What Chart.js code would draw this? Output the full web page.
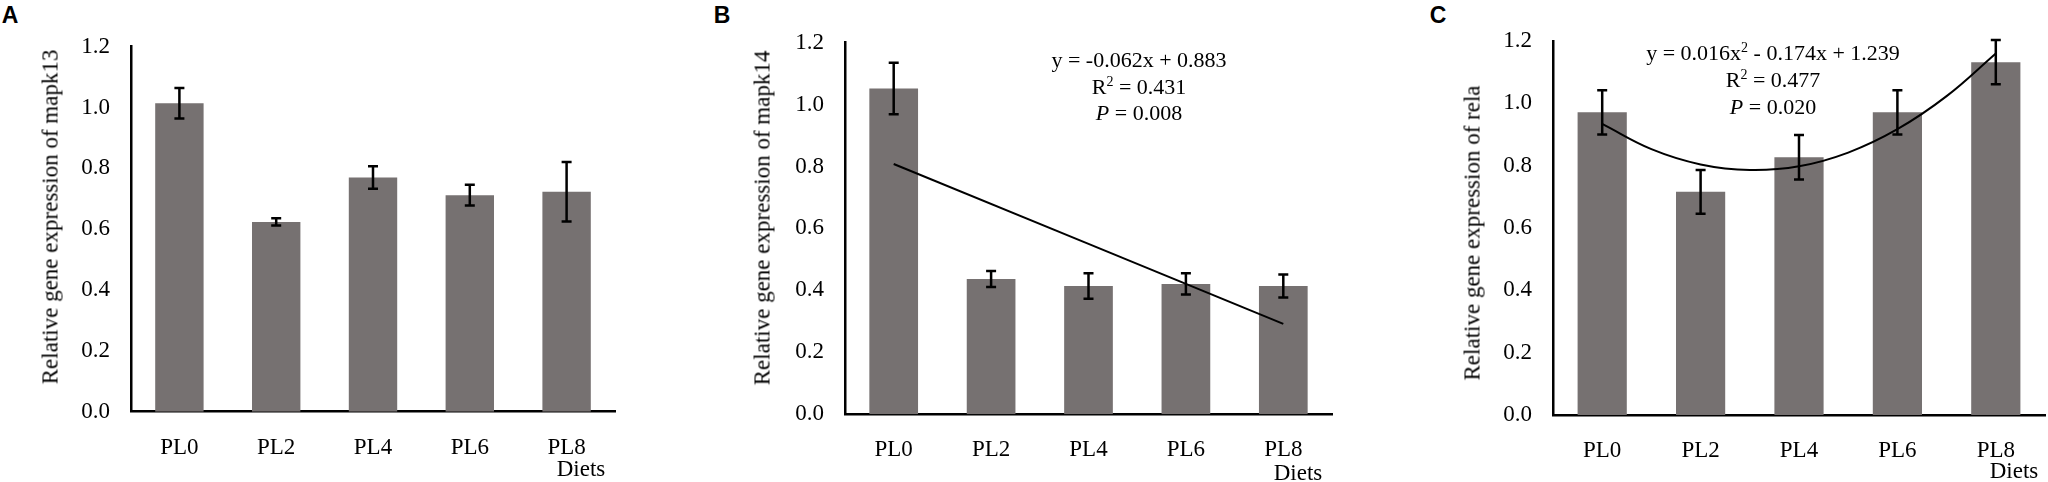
<!DOCTYPE html>
<html>
<head>
<meta charset="utf-8">
<title>Relative gene expression</title>
<script src="https://cdn.jsdelivr.net/npm/chart.js@4.4.1/dist/chart.umd.min.js"></script>
<style>
  html, body { margin: 0; padding: 0; background: #fff; }
  body { width: 2048px; height: 482px; position: relative; overflow: hidden;
         font-family: "Liberation Serif", "Times New Roman", serif; color: #000; }
  canvas.panel { position: absolute; top: 0; }
  .txt { position: absolute; white-space: nowrap; line-height: 1; transform: translate(-50%, -50%); }
  .letter { font-family: "Liberation Sans", Arial, sans-serif; font-weight: bold; font-size: 23px; }
  .ytitle { font-size: 23px; transform: translate(-50%, -50%) rotate(-90deg); }
  .xtitle { font-size: 23px; }
  .eq { font-size: 22px; }
  .eq sup { font-size: 14px; vertical-align: 8px; line-height: 0; }
</style>
</head>
<body>
<canvas id="chartA" class="panel"></canvas>
<canvas id="chartB" class="panel"></canvas>
<canvas id="chartC" class="panel"></canvas>

<div class="txt letter" style="left:10px; top:15px;">A</div>
<div class="txt letter" style="left:722px; top:15px;">B</div>
<div class="txt letter" style="left:1438px; top:15px;">C</div>

<div class="txt ytitle" style="left:50px; top:217px;">Relative gene expression of mapk13</div>
<div class="txt ytitle" style="left:762px; top:218px;">Relative gene expression of mapk14</div>
<div class="txt ytitle" style="left:1472px; top:233px;">Relative gene expression of rela</div>

<div class="txt xtitle" style="left:581px; top:468px;">Diets</div>
<div class="txt xtitle" style="left:1298px; top:472px;">Diets</div>
<div class="txt xtitle" style="left:2014px; top:470px;">Diets</div>

<div class="txt eq" style="left:1139px; top:60px;">y = -0.062x + 0.883</div>
<div class="txt eq" style="left:1139px; top:87px;">R<sup>2</sup> = 0.431</div>
<div class="txt eq" style="left:1139px; top:113px;"><i>P</i> = 0.008</div>

<div class="txt eq" style="left:1773px; top:53px;">y = 0.016x<sup>2</sup> - 0.174x + 1.239</div>
<div class="txt eq" style="left:1773px; top:80px;">R<sup>2</sup> = 0.477</div>
<div class="txt eq" style="left:1773px; top:107px;"><i>P</i> = 0.020</div>

<script>
// Data
const diets = ['PL0', 'PL2', 'PL4', 'PL6', 'PL8'];
const yTicks = [0, 0.2, 0.4, 0.6, 0.8, 1.0, 1.2];

const mapk13 = [1.014, 0.624, 0.770, 0.712, 0.723];
const mapk13Err = [0.050, 0.012, 0.037, 0.034, 0.098];

const mapk14 = [1.052, 0.437, 0.414, 0.421, 0.414];
const mapk14Err = [0.083, 0.026, 0.041, 0.034, 0.037];

const rela = [0.971, 0.716, 0.827, 0.971, 1.132];
const relaErr = [0.071, 0.070, 0.071, 0.071, 0.071];

// Trend lines, x = position along the diet axis (0 = PL0 ... 4 = PL8)
const mapk14TrendX = [0, 4];
const mapk14TrendY = [0.808, 0.292];
const relaTrendX = [0, 0.5, 1, 1.5, 2, 2.5, 3, 3.5, 4];
const relaTrendY = [0.934, 0.853, 0.804, 0.786, 0.798, 0.842, 0.917, 1.023, 1.160];

const BAR_COLOR = '#767171';
const FONT = "'Liberation Serif', 'Times New Roman', serif";
const H = 482;
const Y_AXIS_W = 100;
const X_AXIS_H = 60;

Chart.defaults.font.family = FONT;
Chart.defaults.color = '#000';

// Error bars drawn on top of the bars
const errorBarPlugin = {
    id: 'errorBars',
    afterDatasetsDraw(chart, args, opts) {
        const meta = chart.getDatasetMeta(0);
        const values = chart.data.datasets[0].data;
        const yScale = chart.scales.y;
        const ctx = chart.ctx;
        ctx.save();
        ctx.strokeStyle = '#000';
        ctx.lineWidth = 2.5;
        meta.data.forEach((bar, i) => {
            const e = opts.errors[i];
            const top = yScale.getPixelForValue(values[i] + e);
            const bot = yScale.getPixelForValue(values[i] - e);
            const half = 5;
            ctx.beginPath();
            ctx.moveTo(bar.x, top);
            ctx.lineTo(bar.x, bot);
            ctx.moveTo(bar.x - half, top);
            ctx.lineTo(bar.x + half, top);
            ctx.moveTo(bar.x - half, bot);
            ctx.lineTo(bar.x + half, bot);
            ctx.stroke();
        });
        ctx.restore();
    }
};

function makePanel(id, box, values, errors, trendX, trendY) {
    const canvas = document.getElementById(id);
    const width = box.right - box.axisX + Y_AXIS_W + 3;
    canvas.width = width;
    canvas.height = H;
    canvas.style.width = width + 'px';
    canvas.style.height = H + 'px';
    canvas.style.left = (box.axisX - Y_AXIS_W) + 'px';

    const datasets = [{
        type: 'bar',
        data: values,
        backgroundColor: BAR_COLOR,
        categoryPercentage: 1.0,
        barPercentage: 0.5,
        grouped: false,
        xAxisID: 'x',
        order: 2
    }];
    if (trendX) {
        datasets.push({
            type: 'line',
            data: trendX.map((x, i) => ({ x: x, y: trendY[i] })),
            xAxisID: 'xt',
            borderColor: '#000',
            borderWidth: 2,
            pointRadius: 0,
            tension: 0.4,
            fill: false,
            order: 1
        });
    }

    return new Chart(canvas.getContext('2d'), {
        type: 'bar',
        data: { labels: diets, datasets: datasets },
        options: {
            responsive: false,
            animation: false,
            layout: {
                padding: { left: 0, right: 3, top: box.top, bottom: H - box.zero - X_AXIS_H }
            },
            plugins: {
                legend: { display: false },
                tooltip: { enabled: false },
                errorBars: { errors: errors }
            },
            scales: {
                x: {
                    type: 'category',
                    offset: true,
                    grid: { display: false },
                    border: { display: true, color: '#000', width: 2.5 },
                    ticks: {
                        color: '#000',
                        font: { family: FONT, size: 23 },
                        padding: 14,
                        maxRotation: 0,
                        autoSkip: false
                    },
                    afterFit: s => { s.height = X_AXIS_H; }
                },
                xt: {
                    type: 'linear',
                    display: false,
                    offset: false,
                    min: -0.5,
                    max: 4.5
                },
                y: {
                    min: 0,
                    max: 1.2,
                    grid: { display: false },
                    border: { display: true, color: '#000', width: 2.5 },
                    ticks: {
                        color: '#000',
                        font: { family: FONT, size: 23 },
                        padding: 13,
                        callback: v => v.toFixed(1)
                    },
                    afterBuildTicks: s => { s.ticks = yTicks.map(v => ({ value: v })); },
                    afterFit: s => { s.width = Y_AXIS_W; }
                }
            }
        },
        plugins: [errorBarPlugin]
    });
}

makePanel('chartA', { axisX: 131, right: 615, top: 46.7, zero: 411.7 }, mapk13, mapk13Err);
makePanel('chartB', { axisX: 845, right: 1332, top: 42.6, zero: 414.3 }, mapk14, mapk14Err, mapk14TrendX, mapk14TrendY);
makePanel('chartC', { axisX: 1553, right: 2045, top: 41, zero: 415 }, rela, relaErr, relaTrendX, relaTrendY);
</script>
</body>
</html>
